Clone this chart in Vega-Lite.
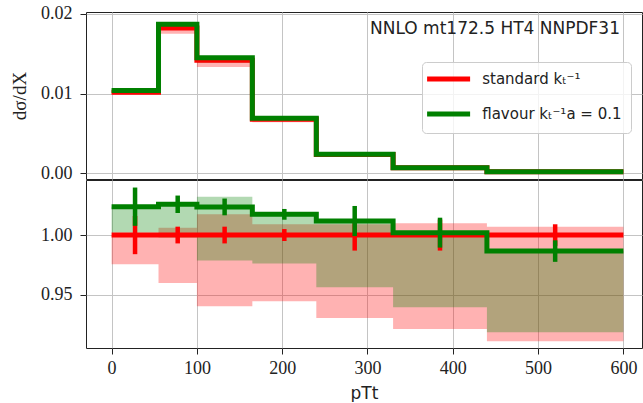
{
  "$schema": "https://vega.github.io/schema/vega-lite/v6.json",
  "background": "white",
  "padding": {"left": 10, "top": 4, "right": 0, "bottom": 0},
  "spacing": 1,
  "bounds": "flush",
  "datasets": {
    "edges": [
      {"x": 0, "r": 0.01015, "g": 0.01039, "rBandLo": 0.009902, "rBandHi": 0.01015, "gBandLo": 0.01017, "gBandHi": 0.01039, "rr": 1, "gr": 1.0237, "rLo": 0.9755, "rHi": 1.0, "gLo": 1.002, "gHi": 1.0237},
      {"x": 55, "r": 0.01823, "g": 0.0187, "rBandLo": 0.0175, "rBandHi": 0.01834, "gBandLo": 0.01819, "gBandHi": 0.0187, "rr": 1, "gr": 1.0257, "rLo": 0.96, "rHi": 1.006, "gLo": 0.998, "gHi": 1.0257},
      {"x": 100, "r": 0.01417, "g": 0.0145, "rBandLo": 0.01333, "rBandHi": 0.01442, "gBandLo": 0.01387, "gBandHi": 0.01462, "rr": 1, "gr": 1.0235, "rLo": 0.9405, "rHi": 1.0173, "gLo": 0.9788, "gHi": 1.032},
      {"x": 165, "r": 0.00676, "g": 0.00688, "rBandLo": 0.006386, "rBandHi": 0.006821, "gBandLo": 0.0066, "gBandHi": 0.006877, "rr": 1, "gr": 1.0173, "rLo": 0.9447, "rHi": 1.009, "gLo": 0.9763, "gHi": 1.0173},
      {"x": 240, "r": 0.00232, "g": 0.00235, "rBandLo": 0.002159, "rBandHi": 0.002341, "gBandLo": 0.002219, "gBandHi": 0.00235, "rr": 1, "gr": 1.0117, "rLo": 0.9307, "rHi": 1.009, "gLo": 0.9564, "gHi": 1.012},
      {"x": 330, "r": 0.00067, "g": 0.000671, "rBandLo": 0.000617, "rBandHi": 0.000677, "gBandLo": 0.00063, "gBandHi": 0.000671, "rr": 1, "gr": 1.002, "rLo": 0.9215, "rHi": 1.0098, "gLo": 0.9397, "gHi": 1.002},
      {"x": 440, "r": 0.00015, "g": 0.000148, "rBandLo": 0.000137, "rBandHi": 0.000151, "gBandLo": 0.000138, "gBandHi": 0.000148, "rr": 1, "gr": 0.9866, "rLo": 0.9112, "rHi": 1.007, "gLo": 0.9188, "gHi": 0.9866},
      {"x": 600, "r": 0.00015, "g": 0.000148, "rBandLo": 0.000137, "rBandHi": 0.000151, "gBandLo": 0.000138, "gBandHi": 0.000148, "rr": 1, "gr": 0.9866, "rLo": 0.9112, "rHi": 1.007, "gLo": 0.9188, "gHi": 0.9866}
    ],
    "bins": [
      {"c": 27.5, "rErrLo": 0.984, "rErrHi": 1.016, "gErrLo": 1.0077, "gErrHi": 1.0397},
      {"c": 77.5, "rErrLo": 0.993, "rErrHi": 1.007, "gErrLo": 1.0184, "gErrHi": 1.033},
      {"c": 132.5, "rErrLo": 0.993, "rErrHi": 1.007, "gErrLo": 1.0165, "gErrHi": 1.0305},
      {"c": 202.5, "rErrLo": 0.995, "rErrHi": 1.005, "gErrLo": 1.0128, "gErrHi": 1.0218},
      {"c": 285, "rErrLo": 0.987, "rErrHi": 1.013, "gErrLo": 0.9991, "gErrHi": 1.0243},
      {"c": 385, "rErrLo": 0.987, "rErrHi": 1.013, "gErrLo": 0.9895, "gErrHi": 1.0145},
      {"c": 520, "rErrLo": 0.991, "rErrHi": 1.009, "gErrLo": 0.9776, "gErrHi": 0.9956}
    ]
  },
  "resolve": {"scale": {"color": "independent"}},
  "vconcat": [
    {
      "width": 556,
      "height": 167,
      "data": {"name": "edges"},
      "layer": [
        {
          "mark": {"type": "area", "interpolate": "step-after", "color": "#ff0000", "opacity": 0.3},
          "encoding": {
            "x": {"field": "x", "type": "quantitative", "scale": {"domain": [-30, 621.8], "nice": false, "zero": false},
                  "axis": {"values": [0, 100, 200, 300, 400, 500, 600], "labels": false, "ticks": false, "title": null}},
            "y": {"field": "rBandLo", "type": "quantitative", "scale": {"domain": [-0.00075, 0.02025], "nice": false, "zero": false},
                  "axis": {"values": [0, 0.01, 0.02], "format": ".2f", "title": "dσ/dX", "titleFont": "Liberation Serif", "titleFontSize": 19, "titlePadding": 11}},
            "y2": {"field": "rBandHi"}
          }
        },
        {
          "mark": {"type": "area", "interpolate": "step-after", "color": "#008000", "opacity": 0.3},
          "encoding": {"x": {"field": "x", "type": "quantitative"}, "y": {"field": "gBandLo", "type": "quantitative"}, "y2": {"field": "gBandHi"}}
        },
        {
          "mark": {"type": "line", "interpolate": "step-after", "strokeWidth": 5},
          "encoding": {
            "x": {"field": "x", "type": "quantitative"},
            "y": {"field": "r", "type": "quantitative"},
            "color": {"datum": "standard kₜ⁻¹", "type": "nominal",
                      "scale": {"domain": ["standard kₜ⁻¹", "flavour kₜ⁻¹a = 0.1"], "range": ["#ff0000", "#008000"]},
                      "legend": {"orient": "none", "legendX": 336, "legendY": 50, "title": null}}
          }
        },
        {
          "mark": {"type": "line", "interpolate": "step-after", "strokeWidth": 5},
          "encoding": {
            "x": {"field": "x", "type": "quantitative"},
            "y": {"field": "g", "type": "quantitative"},
            "color": {"datum": "flavour kₜ⁻¹a = 0.1", "type": "nominal"}
          }
        },
        {
          "data": {"values": [{"label": "NNLO mt172.5 HT4 NNPDF31"}]},
          "mark": {"type": "text", "align": "right", "baseline": "alphabetic", "font": "DejaVu Sans", "fontSize": 17, "color": "#222"},
          "encoding": {
            "x": {"datum": 596, "type": "quantitative"},
            "y": {"datum": 0.0175, "type": "quantitative"},
            "text": {"field": "label", "type": "nominal"}
          }
        }
      ]
    },
    {
      "width": 556,
      "height": 168,
      "data": {"name": "edges"},
      "layer": [
        {
          "mark": {"type": "area", "interpolate": "step-after", "color": "#ff0000", "opacity": 0.3},
          "encoding": {
            "x": {"field": "x", "type": "quantitative", "scale": {"domain": [-30, 621.8], "nice": false, "zero": false},
                  "axis": {"values": [0, 100, 200, 300, 400, 500, 600], "title": "pTt", "titleFont": "DejaVu Sans", "titleFontSize": 17, "titlePadding": 8, "labelPadding": 5}},
            "y": {"field": "rLo", "type": "quantitative", "scale": {"domain": [0.9056, 1.046], "nice": false, "zero": false},
                  "axis": {"values": [0.95, 1.0], "format": ".2f", "title": null}},
            "y2": {"field": "rHi"}
          }
        },
        {
          "mark": {"type": "area", "interpolate": "step-after", "color": "#008000", "opacity": 0.3},
          "encoding": {"x": {"field": "x", "type": "quantitative"}, "y": {"field": "gLo", "type": "quantitative"}, "y2": {"field": "gHi"}}
        },
        {
          "mark": {"type": "line", "interpolate": "step-after", "strokeWidth": 5, "color": "#ff0000"},
          "encoding": {"x": {"field": "x", "type": "quantitative"}, "y": {"field": "rr", "type": "quantitative"}}
        },
        {
          "data": {"name": "bins"},
          "mark": {"type": "rule", "strokeWidth": 4.5, "color": "#ff0000"},
          "encoding": {"x": {"field": "c", "type": "quantitative"}, "y": {"field": "rErrLo", "type": "quantitative"}, "y2": {"field": "rErrHi"}}
        },
        {
          "mark": {"type": "line", "interpolate": "step-after", "strokeWidth": 5, "color": "#008000"},
          "encoding": {"x": {"field": "x", "type": "quantitative"}, "y": {"field": "gr", "type": "quantitative"}}
        },
        {
          "data": {"name": "bins"},
          "mark": {"type": "rule", "strokeWidth": 4.5, "color": "#008000"},
          "encoding": {"x": {"field": "c", "type": "quantitative"}, "y": {"field": "gErrLo", "type": "quantitative"}, "y2": {"field": "gErrHi"}}
        }
      ]
    }
  ],
  "config": {
    "view": {"stroke": "#222", "strokeWidth": 1},
    "axis": {
      "gridColor": "#c4c4c4", "gridWidth": 1, "domain": false,
      "tickColor": "#222", "tickSize": 6,
      "labelFont": "Liberation Serif", "labelFontSize": 18, "labelColor": "#222", "labelPadding": 8,
      "titleFontWeight": "normal", "titleColor": "#222"
    },
    "legend": {
      "symbolType": "M-4,0H4", "symbolStrokeWidth": 5, "symbolSize": 115.6, "symbolOffset": 9.6,
      "labelFont": "DejaVu Sans", "labelFontSize": 15, "labelColor": "#222", "labelOffset": 25.6,
      "fillColor": "rgba(255,255,255,0.8)", "strokeColor": "#cccccc", "cornerRadius": 4, "padding": 9,
      "rowPadding": 15
    }
  }
}
